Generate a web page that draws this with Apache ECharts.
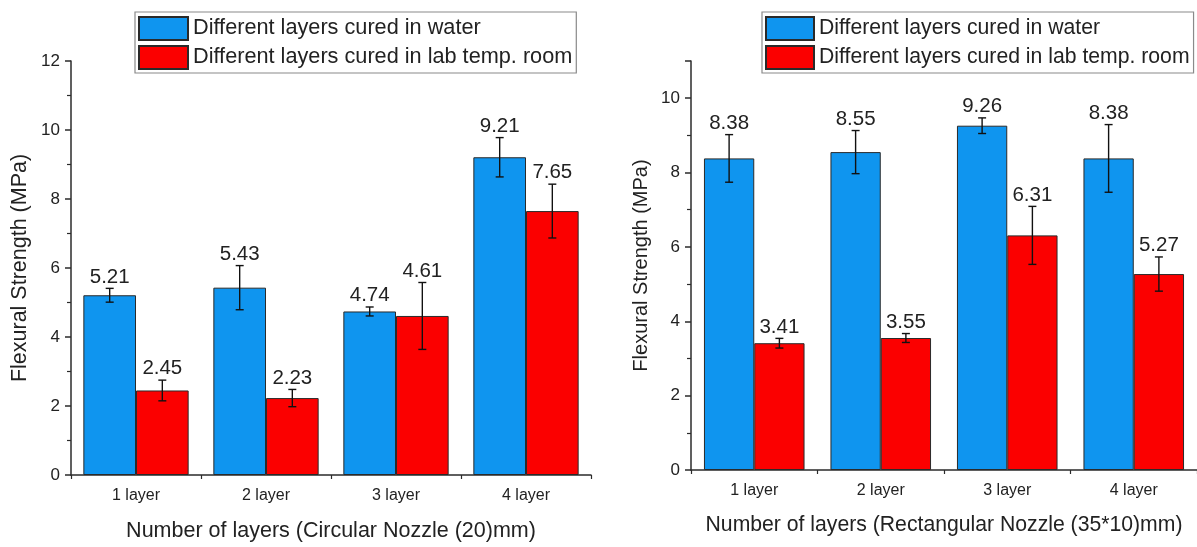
<!DOCTYPE html>
<html>
<head>
<meta charset="utf-8">
<script src="https://cdn.jsdelivr.net/npm/echarts@6/dist/echarts.min.js"></script>
<style>
html,body{margin:0;padding:0;background:#fff;}
#chart{width:1197px;height:547px;}
</style>
</head>
<body>
<div id="chart"></div>
<script>
const categories = ['1 layer', '2 layer', '3 layer', '4 layer'];
const seriesNames = ['Different layers cured in water', 'Different layers cured in lab temp. room'];
// Left panel: Circular Nozzle (20)mm
const circWater = [5.21, 5.43, 4.74, 9.21];
const circWaterErr = [0.2, 0.64, 0.13, 0.57];
const circLab = [2.45, 2.23, 4.61, 7.65];
const circLabErr = [0.3, 0.25, 0.97, 0.78];
// Right panel: Rectangular Nozzle (35*10)mm
const rectWater = [8.38, 8.55, 9.26, 8.38];
const rectWaterErr = [0.64, 0.58, 0.21, 0.91];
const rectLab = [3.41, 3.55, 6.31, 5.27];
const rectLabErr = [0.13, 0.12, 0.78, 0.46];
const leftYTicks = {min: 0, max: 12, interval: 2};
const rightYTicks = {min: 0, max: 11, interval: 2};

const FONT = '"Liberation Sans", Arial, sans-serif';
const BLUE = '#0f95ef';
const RED = '#fb0000';
const AXIS = '#2b2b2b';
const TXT = '#222';

function errRender(side, gapFrac, fontSize) {
  return function (params, api) {
    const i = api.value(0), v = api.value(1), e = api.value(2);
    const c = api.coord([i, v]);
    const cw = api.size([1, 0])[0];
    const bw = cw * (1 - gapFrac) / 2;
    const x = c[0] + side * bw / 2;
    const top = api.coord([i, v + e])[1];
    const bot = api.coord([i, v - e])[1];
    const hw = 4;
    const st = {stroke: '#111', lineWidth: 1.4};
    return {
      type: 'group',
      children: [
        {type: 'line', shape: {x1: x, y1: top, x2: x, y2: bot}, style: st},
        {type: 'line', shape: {x1: x - hw, y1: top, x2: x + hw, y2: top}, style: st},
        {type: 'line', shape: {x1: x - hw, y1: bot, x2: x + hw, y2: bot}, style: st},
        {type: 'text', x: x, y: top - 1, style: {text: v.toFixed(2), fill: TXT, font: fontSize + 'px ' + FONT, align: 'center', verticalAlign: 'bottom'}}
      ]
    };
  };
}

function triples(vals, errs) { return vals.map((v, i) => [i, v, errs[i]]); }

function xAxes(gridIndex, name, labelFont) {
  return [
    {
      type: 'category', gridIndex: gridIndex, data: categories,
      name: name, nameLocation: 'middle', nameGap: 45,
      nameTextStyle: {fontSize: labelFont.name, fontFamily: FONT, color: TXT},
      axisLine: {lineStyle: {color: AXIS, width: 1.5}},
      axisTick: {alignWithLabel: true, length: 7, lineStyle: {color: AXIS, width: 1.5}},
      axisLabel: {fontSize: labelFont.cat, fontFamily: FONT, color: TXT, margin: 13}
    },
    {
      type: 'category', gridIndex: gridIndex, data: categories, position: 'bottom',
      axisLine: {show: false},
      axisTick: {show: true, length: 4, lineStyle: {color: AXIS, width: 1.2}},
      axisLabel: {show: false}
    }
  ];
}

function yAxis(gridIndex, ticks, nameFont) {
  return {
    type: 'value', gridIndex: gridIndex, min: ticks.min, max: ticks.max, interval: ticks.interval,
    name: 'Flexural Strength (MPa)', nameLocation: 'middle', nameGap: 40,
    nameTextStyle: {fontSize: nameFont, fontFamily: FONT, color: TXT},
    axisLine: {show: true, lineStyle: {color: AXIS, width: 1.5}},
    axisTick: {show: true, length: 6, lineStyle: {color: AXIS, width: 1.5}},
    minorTick: {show: true, splitNumber: 2, length: 4, lineStyle: {color: AXIS, width: 1.2}},
    splitLine: {show: false},
    axisLabel: {fontSize: 17, fontFamily: FONT, color: TXT, margin: 11, showMaxLabel: ticks.max % ticks.interval === 0}
  };
}

function legend(left, itemW, font) {
  return {
    orient: 'vertical', left: left, top: 12, icon: 'rect',
    itemWidth: itemW, itemHeight: 23, itemGap: 4,
    padding: [4, 4, 3, 3], borderColor: '#8a8a8a', borderWidth: 1.2, borderRadius: 0,
    selectedMode: false,
    textStyle: {fontSize: font, fontFamily: FONT, color: TXT, lineHeight: 23},
    data: seriesNames
  };
}

const barStyle = (color) => ({color: color, borderColor: '#2a2a2a', borderWidth: 1});

const option = {
  backgroundColor: '#fff',
  animation: false,
  legend: [legend(135, 49, 21.7), legend(762, 48, 21.2)],
  grid: [
    {left: 71, top: 61, width: 520, height: 419},
    {left: 691, top: 61, width: 508, height: 409}
  ],
  xAxis: [].concat(
    xAxes(0, 'Number of layers (Circular Nozzle (20)mm)', {name: 21.5, cat: 16}),
    xAxes(1, 'Number of layers (Rectangular Nozzle (35*10)mm)', {name: 21.2, cat: 16})
  ),
  yAxis: [yAxis(0, leftYTicks, 21.5), yAxis(1, rightYTicks, 20)],
  series: [
    {name: seriesNames[0], type: 'bar', xAxisIndex: 0, yAxisIndex: 0, data: circWater, barGap: '0%', barCategoryGap: '19%', itemStyle: barStyle(BLUE)},
    {name: seriesNames[1], type: 'bar', xAxisIndex: 0, yAxisIndex: 0, data: circLab, barGap: '0%', barCategoryGap: '19%', itemStyle: barStyle(RED)},
    {name: seriesNames[0], type: 'bar', xAxisIndex: 2, yAxisIndex: 1, data: rectWater, barGap: '0%', barCategoryGap: '20.5%', itemStyle: barStyle(BLUE)},
    {name: seriesNames[1], type: 'bar', xAxisIndex: 2, yAxisIndex: 1, data: rectLab, barGap: '0%', barCategoryGap: '20.5%', itemStyle: barStyle(RED)},
    {type: 'custom', xAxisIndex: 0, yAxisIndex: 0, z: 10, clip: false, renderItem: errRender(-1, 0.19, 20.5), data: triples(circWater, circWaterErr), encode: {x: 0, y: 1}},
    {type: 'custom', xAxisIndex: 0, yAxisIndex: 0, z: 10, clip: false, renderItem: errRender(1, 0.19, 20.5), data: triples(circLab, circLabErr), encode: {x: 0, y: 1}},
    {type: 'custom', xAxisIndex: 2, yAxisIndex: 1, z: 10, clip: false, renderItem: errRender(-1, 0.205, 20.5), data: triples(rectWater, rectWaterErr), encode: {x: 0, y: 1}},
    {type: 'custom', xAxisIndex: 2, yAxisIndex: 1, z: 10, clip: false, renderItem: errRender(1, 0.205, 20.5), data: triples(rectLab, rectLabErr), encode: {x: 0, y: 1}}
  ]
};

const chart = echarts.init(document.getElementById('chart'), null, {renderer: 'canvas'});
chart.setOption(option);
</script>
</body>
</html>
